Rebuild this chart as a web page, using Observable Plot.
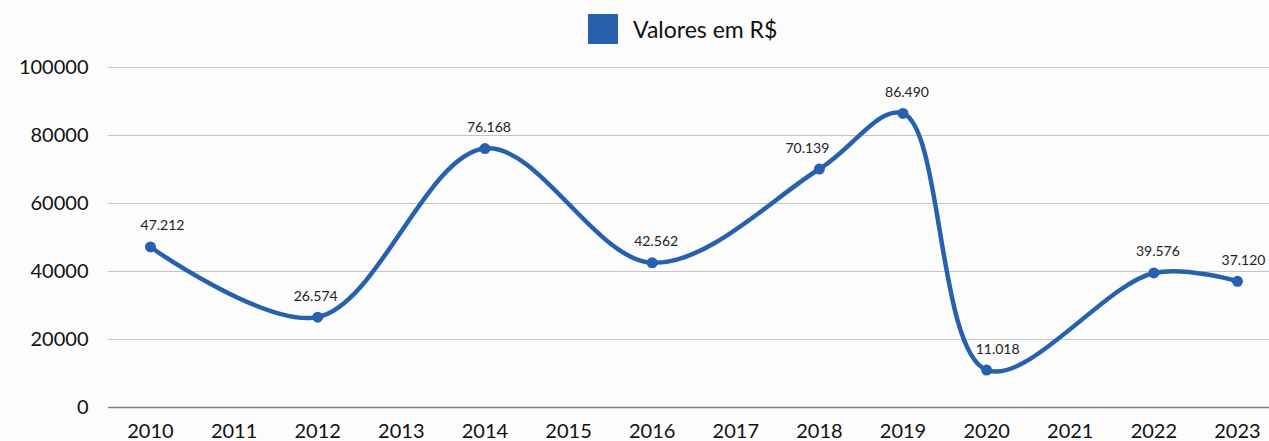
<!DOCTYPE html>
<html><head><meta charset="utf-8">
<script src="https://cdn.jsdelivr.net/npm/d3@7"></script>
<script src="https://cdn.jsdelivr.net/npm/@observablehq/plot@0.6"></script>
<style>
html,body{margin:0;padding:0;background:#fcfcfc;}
body{width:1269px;height:441px;overflow:hidden;font-family:Lato,"Noto Sans",sans-serif;color:#111;}
#legend{position:relative;height:50px;}
#legend .sw{position:absolute;left:588px;top:14px;width:30px;height:30px;background:#2761ad;border-radius:1px;}
#legend .lb{position:absolute;left:633px;top:13px;font-size:23px;line-height:32px;color:#111;}
</style></head>
<body>
<div id="legend"><div class="sw"></div><div class="lb">Valores em R$</div></div>
<div id="chart"></div>
<script>
const years = [2010, 2012, 2014, 2016, 2018, 2019, 2020, 2022, 2023];
const values = [47212, 26574, 76168, 42562, 70139, 86490, 11018, 39576, 37120];
const tickYears = [2010,2011,2012,2013,2014,2015,2016,2017,2018,2019,2020,2021,2022,2023];
const yTicks = [0, 20000, 40000, 60000, 80000, 100000];

const data = years.map((y, i) => ({year: y, value: values[i]}));
const color = "#2761ad";
const fmt = v => v.toLocaleString("pt-BR");

// label nudges (mark styling, to keep labels clear of the line)
const nudge = {2010: 12, 2012: -2, 2018: -12, 2020: 11, 2023: 6};
const groups = d3.group(data, d => nudge[d.year] ?? 4);
const labelMarks = Array.from(groups, ([dx, rows]) =>
  Plot.text(rows, {x: "year", y: "value", text: d => fmt(d.value), dx, dy: -21, fontSize: 14, fill: "#222"}));

const chart = Plot.plot({
  width: 1269,
  height: 391,
  marginTop: 17,
  marginBottom: 34,
  marginLeft: 108,
  marginRight: 0,
  style: {background: "transparent", fontFamily: "Lato, 'Noto Sans', sans-serif", color: "#111", overflow: "hidden"},
  x: {type: "linear", domain: [2009.498, 2023.383], ticks: tickYears, tickFormat: d => String(d), label: null, tickSize: 0, tickPadding: 16},
  y: {domain: [0, 100000], ticks: yTicks, tickFormat: d => String(d), label: null, tickSize: 0, tickPadding: 20},
  marks: [
    Plot.ruleY(yTicks.filter(d => d > 0), {stroke: "#c4c4c4", strokeWidth: 1}),
    Plot.ruleY([0], {stroke: "#808080", strokeWidth: 1.5}),
    Plot.axisX({ticks: tickYears, tickFormat: d => String(d), tickSize: 0, tickPadding: 16, fontSize: 20, label: null}),
    Plot.axisY({ticks: yTicks, tickFormat: d => String(d), tickSize: 0, tickPadding: 20, fontSize: 20, label: null}),
    Plot.line(data, {x: "year", y: "value", curve: "catmull-rom", stroke: color, strokeWidth: 4.5}),
    Plot.dot(data, {x: "year", y: "value", r: 5.5, fill: color}),
    ...labelMarks
  ]
});
document.getElementById("chart").appendChild(chart);
</script>
</body></html>
